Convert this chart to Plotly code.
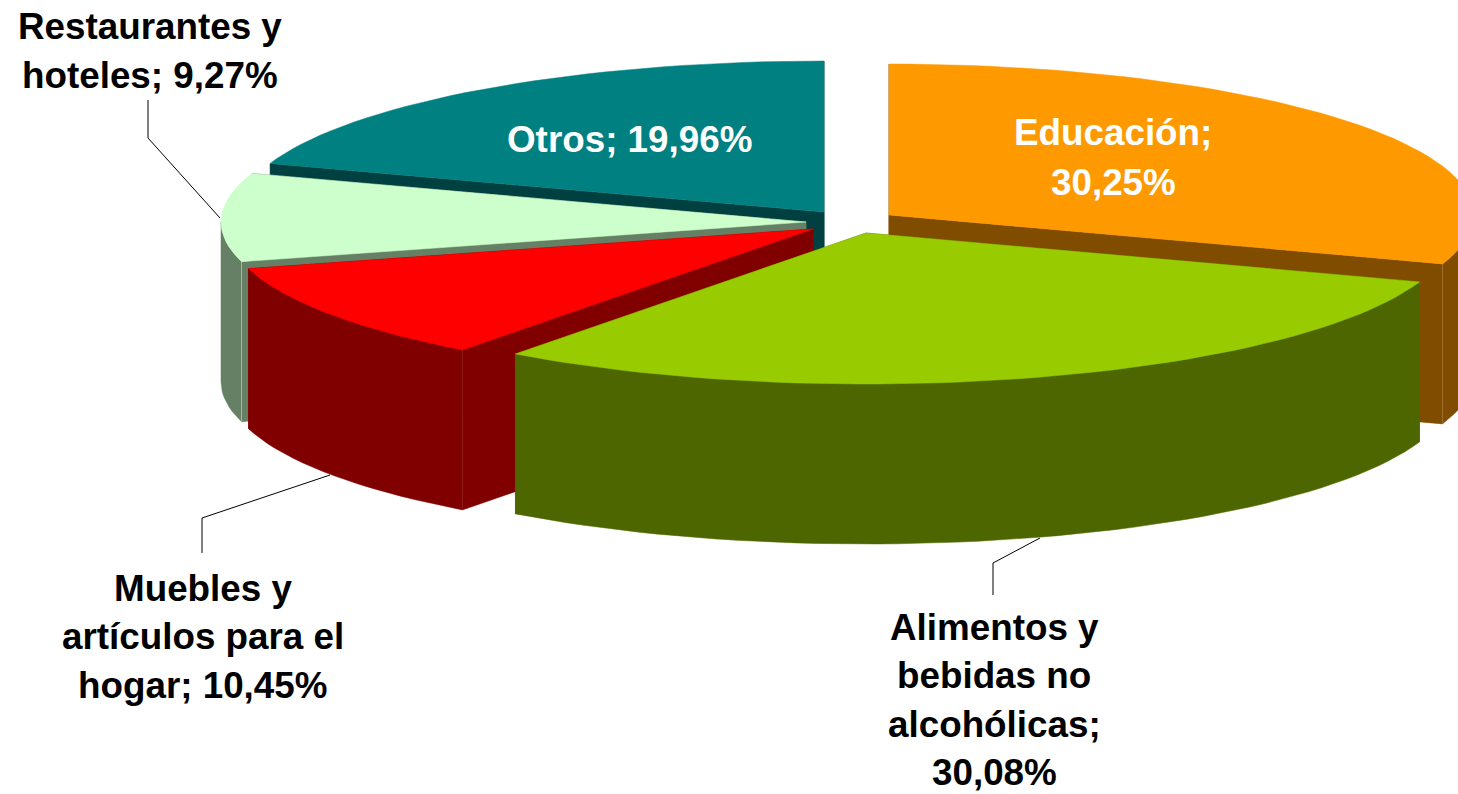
import numpy as np
import plotly.graph_objects as go

categories = ["Educación", "Alimentos y bebidas no alcohólicas", "Muebles y artículos para el hogar",
              "Restaurantes y hoteles", "Otros"]
values = [30.25, 30.08, 10.45, 9.27, 19.96]
top_colors = ["#FF9900", "#99CC00", "#FF0000", "#CCFFCC", "#008080"]
side_colors = ["#804D00", "#4D6600", "#800000", "#668066", "#004040"]
seam_colors = ["#A06E2C", None, "#8E1A1A", "#A3BBA3", None]
seam_side = [1, None, 0, 0, None]
apex_x = [889, 866, 813, 806, 824]
apex_y = [215, 233, 229, 222, 212]
draw_order = [4, 3, 2, 0, 1]
boundary_nudge = [0, -0.35, 0, 0.6, 0]

RX, RY, DEPTH = 585, 151, 160
FONT_SIZE = 36.8

label_lines = [
    (["Educación;", "30,25%"], 1113, [132, 182], "white"),
    (["Alimentos y", "bebidas no", "alcohólicas;", "30,08%"], 994, [627, 675, 724, 772.5], "black"),
    (["Muebles y", "artículos para el", "hogar; 10,45%"], 203, [588, 636, 685], "black"),
    (["Restaurantes y", "hoteles; 9,27%"], 150, [26, 75], "black"),
    (["Otros; 19,96%"], 629, [139], "white"),
]
leaders = [
    ([148, 148, 220], [100, 138, 218]),
    ([202, 202, 330], [553, 518, 475]),
    ([993, 993, 1040], [595, 563, 538]),
]

shares = np.array(values) / sum(values) * 360
ends = np.cumsum(shares) + np.array(boundary_nudge)
starts = np.r_[0, ends[:-1]]


def pt(i, deg):
    r = np.radians(deg)
    return apex_x[i] + RX * np.sin(r), apex_y[i] - RY * np.cos(r)


fig = go.Figure()
for i in draw_order:
    a0, a1 = starts[i], ends[i]
    for a in (a0, a1):
        x, y = pt(i, a)
        ax, ay = apex_x[i], apex_y[i]
        fig.add_trace(go.Scatter(x=[ax, x, x, ax, ax], y=[ay, y, y + DEPTH, ay + DEPTH, ay],
                                 mode="lines", fill="toself", fillcolor=side_colors[i],
                                 line=dict(color=side_colors[i], width=0.5), hoverinfo="skip"))
    lo, hi = max(a0, 90), min(a1, 270)
    if hi > lo:
        t = np.linspace(lo, hi, int((hi - lo) / 2) + 2)
        x, y = pt(i, t)
        fig.add_trace(go.Scatter(x=np.r_[x, x[::-1], x[0]], y=np.r_[y, y[::-1] + DEPTH, y[0]],
                                 mode="lines", fill="toself", fillcolor=side_colors[i],
                                 line=dict(color=side_colors[i], width=0.5), hoverinfo="skip"))
    if seam_colors[i]:
        x, y = pt(i, a1 if seam_side[i] else a0)
        fig.add_trace(go.Scatter(x=[x, x], y=[y, y + DEPTH], mode="lines",
                                 line=dict(color=seam_colors[i], width=1), hoverinfo="skip"))
    t = np.linspace(a0, a1, int((a1 - a0) / 2) + 2)
    x, y = pt(i, t)
    fig.add_trace(go.Scatter(x=np.r_[apex_x[i], x, apex_x[i]], y=np.r_[apex_y[i], y, apex_y[i]],
                             mode="lines", fill="toself", fillcolor=top_colors[i],
                             line=dict(color=top_colors[i], width=0.5), hoverinfo="skip",
                             name=categories[i]))

for lx, ly in leaders:
    fig.add_trace(go.Scatter(x=lx, y=ly, mode="lines", line=dict(color="black", width=1), hoverinfo="skip"))

for lines, cx, ys, col in label_lines:
    for s, yy in zip(lines, ys):
        fig.add_annotation(x=cx, y=yy, text=f"<b>{s}</b>", showarrow=False, xanchor="center", yanchor="middle",
                           font=dict(family="Liberation Sans", size=FONT_SIZE, color=col))

fig.update_layout(width=1458, height=794, margin=dict(l=0, r=0, t=0, b=0), showlegend=False,
                  paper_bgcolor="white", plot_bgcolor="white",
                  xaxis=dict(range=[0, 1458], visible=False, fixedrange=True),
                  yaxis=dict(range=[794, 0], visible=False, fixedrange=True))
fig.write_html("out.html", config={"displayModeBar": False},
               post_script="document.body.style.margin='0';")
